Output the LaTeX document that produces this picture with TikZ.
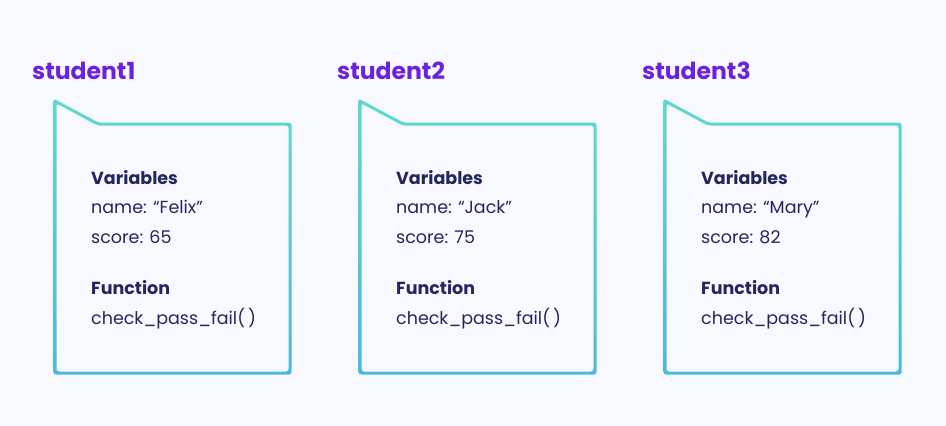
\documentclass[tikz,border=0pt]{standalone}
\usepackage{fontspec}
\setmainfont{Poppins}
\usepackage{tikz}
\definecolor{bgc}{RGB}{248,249,254}
\definecolor{lila}{RGB}{108,32,224}
\definecolor{navy}{RGB}{37,38,94}
\definecolor{tuerkis}{RGB}{96,217,203}
\definecolor{blau}{RGB}{78,184,220}

\begin{document}
\begin{tikzpicture}[x=1pt,y=-1pt]
			\tikzstyle{every node}=[inner sep=0pt,anchor=base west,text=navy]
			\tikzstyle{titel}=[font=\fontsize{23.5}{26}\selectfont\bfseries,text=lila]
			\tikzstyle{kopf}=[font=\fontsize{17.5}{20}\selectfont\bfseries]
			\tikzstyle{zeile}=[font=\fontsize{17.5}{20}\selectfont]
			
			%Hintergrund
			\fill[bgc] (0,0) rectangle (946,426);
			\useasboundingbox (0,0) rectangle (946,426);
			
			\foreach \i/\n/\s in {1/Felix/65,2/Jack/75,3/Mary/82}{
				\begin{scope}[xshift={(\i-1)*305}]
					%Kasten mit Verlauf
					\shade[top color=tuerkis,bottom color=blau,even odd rule,rounded corners=2.5]
					(53.5,98.5) -- (53.5,374.5) -- (291.5,374.5) -- (291.5,122.5) -- (98.4,122.5) -- cycle
					(56.5,103.5) -- (56.5,371.5) -- (288.5,371.5) -- (288.5,125.5) -- (97.6,125.5) -- cycle;
					
					%Texte
					\node[titel] (stud\i) at (32,79) {student\i};
					\node[kopf] (var\i) at (91,184) {Variables};
					\node[zeile] (name\i) at (91,213) {name: “\n”};
					\node[zeile] (score\i) at (91,243) {score: \s};
					\node[kopf] (fkt\i) at (91,294) {Function};
					\node[zeile] (chk\i) at (91,324) {check\_pass\_fail(\,)};
				\end{scope}
			}
			
			\end{tikzpicture}
\end{document}
